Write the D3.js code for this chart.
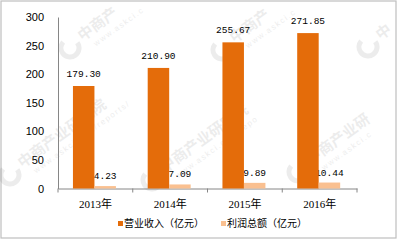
<!DOCTYPE html>
<html>
<head>
<meta charset="utf-8">
<script src="https://cdn.jsdelivr.net/npm/d3@7"></script>
<style>
  body { margin: 0; background: #fff; }
</style>
</head>
<body>
<div id="main-chart"></div>
<script>
const width = 398;
const height = 240;
const margin = { left: 58, right: 41, top: 17, bottom: 51.5 };

const years = ["2013年", "2014年", "2015年", "2016年"];
const series = ["营业收入（亿元）", "利润总额（亿元）"];
const revenue = [179.3, 210.9, 255.67, 271.85];
const profit = [4.23, 7.09, 9.89, 10.44];
const yTicks = [0, 50, 100, 150, 200, 250, 300];
const colors = ["#E46C0A", "#FAC090"];

// watermark spots: logo position + the part of the text that shows
const marks = [
  { x: 70, y: 48, name: "中商产", url: "www.askci.c" },
  { x: 222, y: 50, name: "中商产", url: "www.askci.c" },
  { x: 368, y: 47, name: "中", url: "" },
  { x: 10, y: 175, name: "中商产业研究院", url: "www.askci.com/reports/" },
  { x: 152, y: 180, name: "中商产业研究院", url: "www.askci.com/repo" },
  { x: 298, y: 172, name: "中商产业研", url: "www.askci.c" },
];

const rows = years.map((y, i) => ({ year: y, values: [revenue[i], profit[i]] }));

const svg = d3
  .select("#main-chart")
  .append("svg")
  .attr("width", width)
  .attr("height", height);

svg
  .append("rect")
  .attr("x", 1)
  .attr("y", 1)
  .attr("width", width - 3)
  .attr("height", height - 3)
  .attr("fill", "#fff")
  .attr("stroke", "#bfbfbf")
  .attr("stroke-width", 1.2);

// watermark
const wm = svg
  .selectAll(".wm")
  .data(marks)
  .join("g")
  .attr("class", "wm")
  .attr("transform", (d) => `translate(${d.x},${d.y}) rotate(-36)`)
  .style("opacity", 0.07);
wm.append("circle")
  .attr("r", 9)
  .attr("fill", "none")
  .attr("stroke", "#000")
  .attr("stroke-width", 5)
  .attr("stroke-dasharray", "40 17");
wm.append("text")
  .attr("x", 14)
  .attr("y", 2)
  .attr("font-family", "Noto Sans CJK SC")
  .attr("font-weight", "bold")
  .attr("font-size", 15)
  .text((d) => d.name);
wm.append("text")
  .attr("x", 22)
  .attr("y", 14)
  .attr("font-family", "Liberation Sans")
  .attr("font-size", 8)
  .attr("letter-spacing", 1.5)
  .text((d) => d.url);

const x = d3
  .scaleBand()
  .domain(years)
  .range([margin.left, width - margin.right]);

const xSub = d3
  .scaleBand()
  .domain([0, 1])
  .range([x.bandwidth() * 0.2, x.bandwidth() * 0.775]);

const y = d3
  .scaleLinear()
  .domain([0, 300])
  .range([height - margin.bottom, margin.top]);

// y axis
const yAxis = svg
  .append("g")
  .attr("transform", `translate(${margin.left},0)`)
  .call(d3.axisLeft(y).tickValues(yTicks).tickSize(0).tickPadding(14));
yAxis.select(".domain").attr("stroke", "#868686");
yAxis
  .selectAll("text")
  .attr("font-family", "Liberation Sans, Arial, sans-serif")
  .attr("font-size", 11)
  .attr("fill", "#000");

// x axis
const xAxis = svg
  .append("g")
  .attr("transform", `translate(0,${y(0)})`)
  .call(d3.axisBottom(x).tickSize(0).tickPadding(12));
xAxis.select(".domain").attr("stroke", "#868686");
xAxis
  .selectAll("text")
  .attr("font-family", "Liberation Serif, Noto Sans CJK SC, serif")
  .attr("font-size", 11)
  .attr("fill", "#000");
xAxis
  .selectAll(".sep")
  .data(years.map((d) => x(d)).concat([x(years[3]) + x.bandwidth()]))
  .join("line")
  .attr("class", "sep")
  .attr("x1", (d) => d)
  .attr("x2", (d) => d)
  .attr("y1", 0)
  .attr("y2", 4)
  .attr("stroke", "#868686");

const groups = svg
  .selectAll(".grp")
  .data(rows)
  .join("g")
  .attr("class", "grp")
  .attr("transform", (d) => `translate(${x(d.year)},0)`);

// labels first, bars drawn over them
groups
  .selectAll(".lbl")
  .data((d) => d.values)
  .join("text")
  .attr("class", "lbl")
  .attr("x", (d, i) => xSub(i) + xSub.bandwidth() / 2)
  .attr("y", (d, i) => y(d) - (i === 0 ? 9 : 7))
  .attr("text-anchor", "middle")
  .attr("font-family", "Liberation Mono, monospace")
  .attr("font-size", 9.5)
  .attr("fill", "#000")
  .text((d) => d3.format(".2f")(d));

groups
  .selectAll(".bar")
  .data((d) => d.values)
  .join("rect")
  .attr("class", "bar")
  .attr("x", (d, i) => xSub(i))
  .attr("width", xSub.bandwidth())
  .attr("y", (d) => y(d))
  .attr("height", (d) => y(0) - y(d))
  .attr("fill", (d, i) => colors[i]);

// legend
const legend = svg
  .selectAll(".legend")
  .data(series)
  .join("g")
  .attr("class", "legend")
  .attr("transform", (d, i) => `translate(${i === 0 ? 118 : 221},221)`);
legend
  .append("rect")
  .attr("width", 5)
  .attr("height", 5)
  .attr("fill", (d, i) => colors[i]);
legend
  .append("text")
  .attr("x", 6)
  .attr("y", 2.5)
  .attr("dy", "0.35em")
  .attr("font-family", "Noto Sans CJK SC")
  .attr("font-size", 10)
  .attr("fill", "#000")
  .text((d) => d);
</script>
</body>
</html>
